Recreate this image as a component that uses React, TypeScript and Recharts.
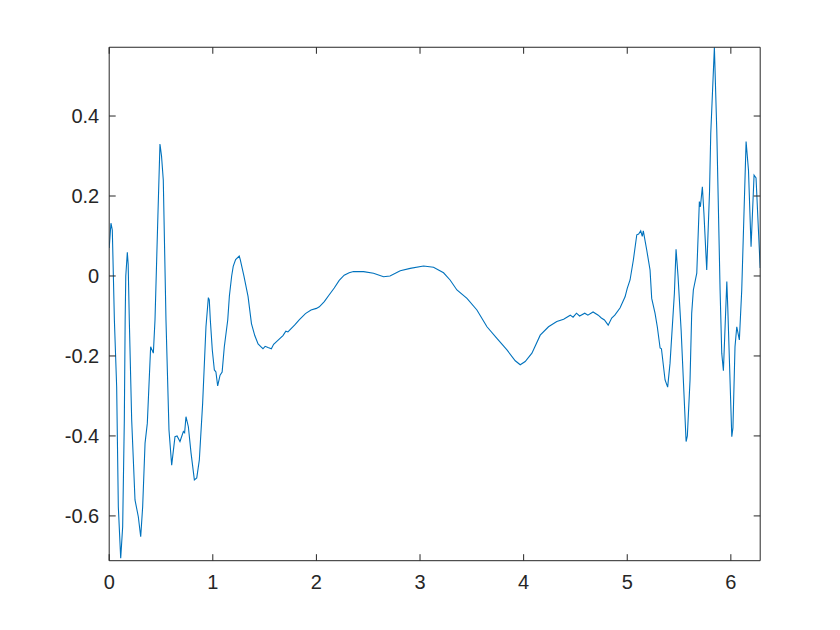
import React from 'react';
import { LineChart, Line, XAxis, YAxis } from 'recharts';

const xValues = [
  0.0, 0.017, 0.03, 0.05, 0.072, 0.088, 0.111, 0.13, 0.146, 0.154, 0.16, 0.175, 0.183, 0.194,
  0.217, 0.249, 0.281, 0.304, 0.323, 0.346, 0.368, 0.4, 0.426, 0.442, 0.47, 0.49, 0.505, 0.522,
  0.548, 0.577, 0.603, 0.635, 0.655, 0.683, 0.716, 0.728, 0.741, 0.764, 0.79, 0.822, 0.845, 0.87,
  0.902, 0.934, 0.957, 0.966, 0.976, 0.995, 1.015, 1.03, 1.047, 1.07, 1.09, 1.111, 1.144, 1.16,
  1.182, 1.197, 1.22, 1.255, 1.265, 1.3, 1.34, 1.373, 1.405, 1.437, 1.468, 1.484, 1.505, 1.533,
  1.565, 1.587, 1.628, 1.677, 1.705, 1.725, 1.789, 1.836, 1.894, 1.948, 2.0, 2.028, 2.076, 2.124,
  2.172, 2.22, 2.268, 2.316, 2.358, 2.455, 2.551, 2.648, 2.71, 2.809, 2.905, 3.034, 3.13, 3.227,
  3.29, 3.356, 3.453, 3.549, 3.646, 3.742, 3.839, 3.919, 3.967, 4.015, 4.08, 4.16, 4.24, 4.32,
  4.386, 4.45, 4.477, 4.51, 4.54, 4.59, 4.62, 4.67, 4.72, 4.75, 4.78, 4.816, 4.85, 4.88, 4.93,
  4.979, 5.0, 5.027, 5.059, 5.092, 5.11, 5.13, 5.145, 5.155, 5.188, 5.22, 5.236, 5.268, 5.29,
  5.317, 5.33, 5.365, 5.39, 5.413, 5.455, 5.471, 5.49, 5.52, 5.568, 5.58, 5.606, 5.622, 5.638,
  5.671, 5.696, 5.706, 5.725, 5.74, 5.767, 5.794, 5.806, 5.841, 5.864, 5.896, 5.912, 5.928, 5.961,
  5.97, 6.009, 6.02, 6.04, 6.057, 6.082, 6.105, 6.147, 6.17, 6.195, 6.224, 6.243, 6.283,
];

const yValues = [
  0.07, 0.132, 0.115, -0.11, -0.277, -0.577, -0.706, -0.627, -0.36, -0.11, 0.0, 0.059, 0.03, -0.11,
  -0.36, -0.56, -0.602, -0.652, -0.577, -0.418, -0.368, -0.177, -0.193, -0.11, 0.15, 0.33, 0.3, 0.24,
  -0.11, -0.385, -0.473, -0.402, -0.4, -0.414, -0.389, -0.392, -0.352, -0.377, -0.443, -0.51, -0.505, -0.46,
  -0.318, -0.127, -0.054, -0.06, -0.11, -0.185, -0.235, -0.24, -0.275, -0.248, -0.24, -0.177, -0.11, -0.05,
  0.0, 0.024, 0.041, 0.05, 0.041, 0.0, -0.051, -0.119, -0.149, -0.17, -0.178, -0.182, -0.176, -0.179,
  -0.182, -0.171, -0.161, -0.149, -0.138, -0.14, -0.123, -0.109, -0.094, -0.085, -0.081, -0.077, -0.064, -0.047,
  -0.03, -0.011, 0.002, 0.008, 0.011, 0.011, 0.007, -0.002, 0.0, 0.013, 0.019, 0.025, 0.022, 0.008,
  -0.01, -0.035, -0.056, -0.085, -0.127, -0.156, -0.185, -0.212, -0.222, -0.214, -0.193, -0.148, -0.127, -0.114,
  -0.108, -0.098, -0.103, -0.093, -0.1, -0.093, -0.098, -0.09, -0.098, -0.105, -0.11, -0.123, -0.105, -0.098, -0.08,
  -0.052, -0.031, -0.01, 0.04, 0.103, 0.105, 0.113, 0.099, 0.113, 0.065, 0.015, -0.056, -0.093, -0.127,
  -0.18, -0.182, -0.26, -0.278, -0.218, -0.043, 0.067, 0.0, -0.135, -0.414, -0.4, -0.26, -0.093, -0.035,
  0.007, 0.186, 0.173, 0.223, 0.157, 0.015, 0.21, 0.357, 0.572, 0.365, -0.035, -0.193, -0.237, -0.014,
  -0.077, -0.402, -0.38, -0.177, -0.127, -0.16, -0.035, 0.336, 0.265, 0.073, 0.252, 0.245, 0.02,
];

const xTicks = [0, 1, 2, 3, 4, 5, 6];
const xTickLabels = ['0', '1', '2', '3', '4', '5', '6'];
const yTicks = [-0.6, -0.4, -0.2, 0, 0.2, 0.4];
const yTickLabels = ['-0.6', '-0.4', '-0.2', '0', '0.2', '0.4'];

const data = xValues.map((x, i) => ({ x, y: yValues[i] }));

const AXIS = '#262626';
const TL = 6.5;
const FONT = "'Liberation Sans', Arial, Helvetica, sans-serif";
const XDOMAIN: [number, number] = [0, 2 * Math.PI];
const YDOMAIN: [number, number] = [-0.712, 0.572];

const BottomTick = (props: any) => {
  const { x, y, index } = props;
  return (
    <g>
      <line x1={x} y1={y} x2={x} y2={y - TL} stroke={AXIS} strokeWidth={1} />
      <text x={x} y={y + 28} textAnchor="middle" fontSize={20} fill={AXIS} fontFamily={FONT}>
        {xTickLabels[index]}
      </text>
    </g>
  );
};

const TopTick = (props: any) => {
  const { x, y } = props;
  return <line x1={x} y1={y} x2={x} y2={y + TL} stroke={AXIS} strokeWidth={1} />;
};

const LeftTick = (props: any) => {
  const { x, y, index } = props;
  return (
    <g>
      <line x1={x} y1={y} x2={x + TL} y2={y} stroke={AXIS} strokeWidth={1} />
      <text x={x - 10} y={y + 7} textAnchor="end" fontSize={20} fill={AXIS} fontFamily={FONT}>
        {yTickLabels[index]}
      </text>
    </g>
  );
};

const RightTick = (props: any) => {
  const { x, y } = props;
  return <line x1={x} y1={y} x2={x - TL} y2={y} stroke={AXIS} strokeWidth={1} />;
};

export default function App() {
  return (
    <div style={{ position: 'absolute', left: 0, top: 0, width: 840, height: 630, background: '#fff' }}>
      <LineChart
        width={840}
        height={630}
        data={data}
        margin={{ top: 46.25, right: 78.8, bottom: 0, left: 0 }}
      >
        <XAxis
          dataKey="x"
          type="number"
          domain={XDOMAIN}
          ticks={xTicks}
          allowDataOverflow
          height={69.3}
          tickSize={0}
          tickMargin={0}
          tickLine={false}
          axisLine={{ stroke: AXIS, strokeWidth: 1 }}
          tick={BottomTick}
          interval={0}
        />
        <XAxis
          xAxisId="top"
          orientation="top"
          dataKey="x"
          type="number"
          domain={XDOMAIN}
          ticks={xTicks}
          allowDataOverflow
          height={1}
          tickSize={0}
          tickMargin={0}
          tickLine={false}
          axisLine={{ stroke: AXIS, strokeWidth: 1 }}
          tick={TopTick}
          interval={0}
        />
        <YAxis
          type="number"
          domain={YDOMAIN}
          ticks={yTicks}
          allowDataOverflow
          width={109.2}
          tickSize={0}
          tickMargin={0}
          tickLine={false}
          axisLine={{ stroke: AXIS, strokeWidth: 1 }}
          tick={LeftTick}
          interval={0}
        />
        <YAxis
          yAxisId="right"
          orientation="right"
          type="number"
          domain={YDOMAIN}
          ticks={yTicks}
          allowDataOverflow
          width={1}
          tickSize={0}
          tickMargin={0}
          tickLine={false}
          axisLine={{ stroke: AXIS, strokeWidth: 1 }}
          tick={RightTick}
          interval={0}
        />
        <Line
          xAxisId="top"
          yAxisId="right"
          type="linear"
          dataKey="y"
          stroke="none"
          strokeWidth={0}
          dot={false}
          activeDot={false}
          legendType="none"
          isAnimationActive={false}
        />
        <Line
          type="linear"
          dataKey="y"
          stroke="#0072BD"
          strokeWidth={1.1}
          dot={false}
          isAnimationActive={false}
        />
      </LineChart>
    </div>
  );
}
